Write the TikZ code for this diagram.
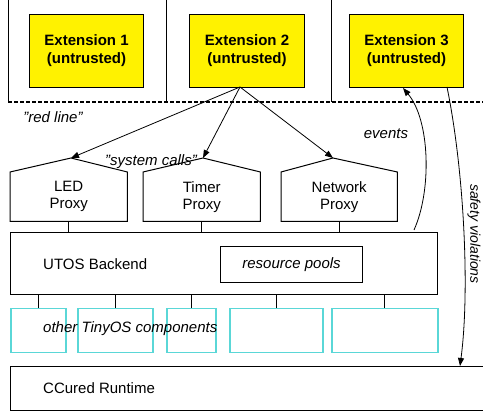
\documentclass[tikz,border=0pt]{standalone}
\usepackage{fontspec}
\setmainfont{Liberation Sans}
\usetikzlibrary{arrows.meta}
\definecolor{cyanbox}{RGB}{90,215,215}
\begin{document}
\begin{tikzpicture}[x=1pt,y=-1pt,
  font=\fontsize{15}{17}\selectfont,
  box/.style={draw=black, line width=1.1pt, inner sep=0pt, anchor=north west, align=center},
  ext/.style={box, fill=yellow, font=\fontsize{15}{18}\selectfont\bfseries},
  proxy/.style={inner sep=0pt, anchor=north west, align=center},
  comp/.style={draw=cyanbox, line width=1.5pt, inner sep=0pt, anchor=north west, minimum height=44pt},
  lbl/.style={font=\fontsize{15}{17}\selectfont\itshape, inner sep=0pt},
  arr/.style={line width=0.8pt, -{Triangle[length=8pt,width=6pt]}},
  conn/.style={line width=1pt}
]
\useasboundingbox (0,0) rectangle (483,414);

% top partitions
\draw[line width=1pt] (8,0) -- (8,102);
\draw[line width=1pt] (166,0) -- (166,102);
\draw[line width=1pt] (331,0) -- (331,102);
\draw[line width=1.2pt, dash pattern=on 4pt off 2pt] (8,102) -- (483,102);

% extensions
\node[ext, minimum width=114pt, minimum height=73pt] (e1) at (29,14) {Extension 1\\(untrusted)};
\node[ext, minimum width=115pt, minimum height=73pt] (e2) at (189,14) {Extension 2\\(untrusted)};
\node[ext, minimum width=114pt, minimum height=73pt] (e3) at (349,14) {Extension 3\\(untrusted)};

% proxies
\node[proxy, minimum width=117pt, minimum height=49pt] (led) at (10,172) {LED\\Proxy};
\node[proxy, minimum width=117pt, minimum height=49pt] (timer) at (143,172) {Timer\\Proxy};
\node[proxy, minimum width=116pt, minimum height=49pt] (net) at (281,172) {Network\\Proxy};
\coordinate (ledtop) at (71,158);
\coordinate (timertop) at (203,158);
\coordinate (nettop) at (333,158);
\draw[line width=1pt] (led.south west) -- (led.north west) -- (ledtop) -- (led.north east) -- (led.south east) -- cycle;
\draw[line width=1pt] (timer.south west) -- (timer.north west) -- (timertop) -- (timer.north east) -- (timer.south east) -- cycle;
\draw[line width=1pt] (net.south west) -- (net.north west) -- (nettop) -- (net.north east) -- (net.south east) -- cycle;

% system call arrows
\coordinate (e2out) at (240,87);
\draw[arr] (e2out) -- (ledtop);
\draw[arr] (e2out) -- (timertop);
\draw[arr] (e2out) -- (nettop);

% backend
\node[box, minimum width=427pt, minimum height=62pt] (backend) at (10,232) {};
\node[lbl, font=\fontsize{15}{17}\selectfont, anchor=west] (utos) at (43,264) {UTOS Backend};
\node[box, minimum width=142pt, minimum height=36pt, font=\fontsize{15}{17}\selectfont\itshape] (pools) at (220,246) {resource pools};

\draw[conn] (led.south) -- (led.south |- backend.north);
\draw[conn] (timer.south) -- (timer.south |- backend.north);
\draw[conn] (net.south) -- (net.south |- backend.north);

% other components
\node[comp, minimum width=55pt] (c1) at (10,308) {};
\node[comp, minimum width=75pt] (c2) at (77,308) {};
\node[comp, minimum width=49pt] (c3) at (166,308) {};
\node[comp, minimum width=93pt] (c4) at (229,308) {};
\node[comp, minimum width=106pt] (c5) at (331,308) {};
\foreach \c in {c1,c2,c3,c4,c5}
  \draw[conn] (\c.north) -- (\c.north |- backend.south);
\node[lbl, anchor=west] (other) at (43,329) {other TinyOS components};

% ccured
\node[box, minimum width=480pt, minimum height=44pt] (ccured) at (10,366) {};
\node[lbl, font=\fontsize{15}{17}\selectfont, anchor=west] (cclbl) at (43,388) {CCured Runtime};

% events and safety violations
\coordinate (evstart) at (414,230);
\coordinate (evend) at (403,88);
\draw[arr] (evstart) .. controls (432,190) and (430,120) .. (evend);
\coordinate (svstart) at (447,87);
\coordinate (svend) at (460,366);
\draw[arr] (svstart) .. controls (464,170) and (470,290) .. (svend);

% labels
\node[lbl] (redline) at (53,117) {"red line"};
\node[lbl] (syscalls) at (151,162) {"system calls"};
\node[lbl] (events) at (386,134) {events};
\node[lbl, font=\fontsize{14}{16}\selectfont\itshape, rotate=-90] (safety) at (474,234) {safety violations};
\end{tikzpicture}
\end{document}
